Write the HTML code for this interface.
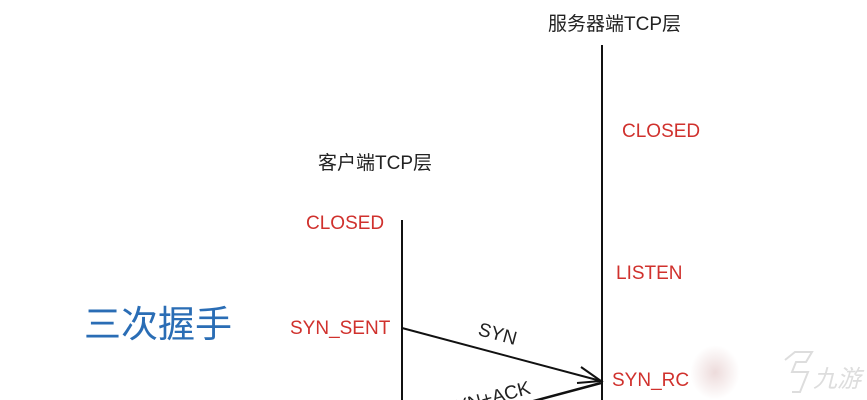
<!DOCTYPE html>
<html style="margin:0;width:867px;height:400px;overflow:hidden"><head><meta charset="utf-8"><style>
body{margin:0;width:867px;height:400px;background:#fff;overflow:hidden;position:relative;font-family:"Liberation Sans","Noto Sans CJK SC",sans-serif}
.t{position:absolute;white-space:nowrap;line-height:1}
.r{color:#d0312d;font-size:19px}
.k{color:#222;font-size:19px}
</style></head><body>
<svg width="867" height="400" style="position:absolute;left:0;top:0;display:block">
<line x1="402" y1="220" x2="402" y2="400" stroke="#111" stroke-width="2"/>
<line x1="602" y1="45" x2="602" y2="400" stroke="#111" stroke-width="2"/>
<line x1="402" y1="328" x2="601" y2="381" stroke="#111" stroke-width="2"/>
<polyline points="581,367 601,381 577,383" fill="none" stroke="#111" stroke-width="2"/>
<line x1="601" y1="383" x2="530" y2="402" stroke="#111" stroke-width="2.5"/>
<text x="478" y="340" transform="rotate(15 497 334)" font-size="19" fill="#222" font-family="Liberation Sans,sans-serif">SYN</text>
<text x="440" y="404" transform="rotate(-15 490 390)" font-size="19" fill="#222" font-family="Liberation Sans,sans-serif">SYN+ACK</text>
<path d="M785 360 L795 352 L812 352 L806 362 L796 362 L792 372 L808 372 L800 392 L792 392" fill="none" stroke="#ddd" stroke-width="2"/>
</svg>
<div class="t k" style="left:548px;top:15px">服务器端TCP层</div>
<div class="t k" style="left:318px;top:154px">客户端TCP层</div>
<div class="t r" style="left:622px;top:122px">CLOSED</div>
<div class="t r" style="left:306px;top:214px">CLOSED</div>
<div class="t r" style="left:616px;top:264px">LISTEN</div>
<div class="t r" style="left:290px;top:319px">SYN_SENT</div>
<div class="t r" style="left:612px;top:371px">SYN_RC</div>
<div class="t" style="left:84px;top:306px;font-size:37px;color:#2a6db5">三次握手</div>
<div style="position:absolute;left:690px;top:345px;width:50px;height:55px;background:radial-gradient(ellipse at center,rgba(235,215,215,.9),rgba(255,255,255,0) 70%)"></div>
<div class="t" style="left:813px;top:368px;font-size:24px;color:#ddd;font-style:italic">九游</div>
</body></html>
